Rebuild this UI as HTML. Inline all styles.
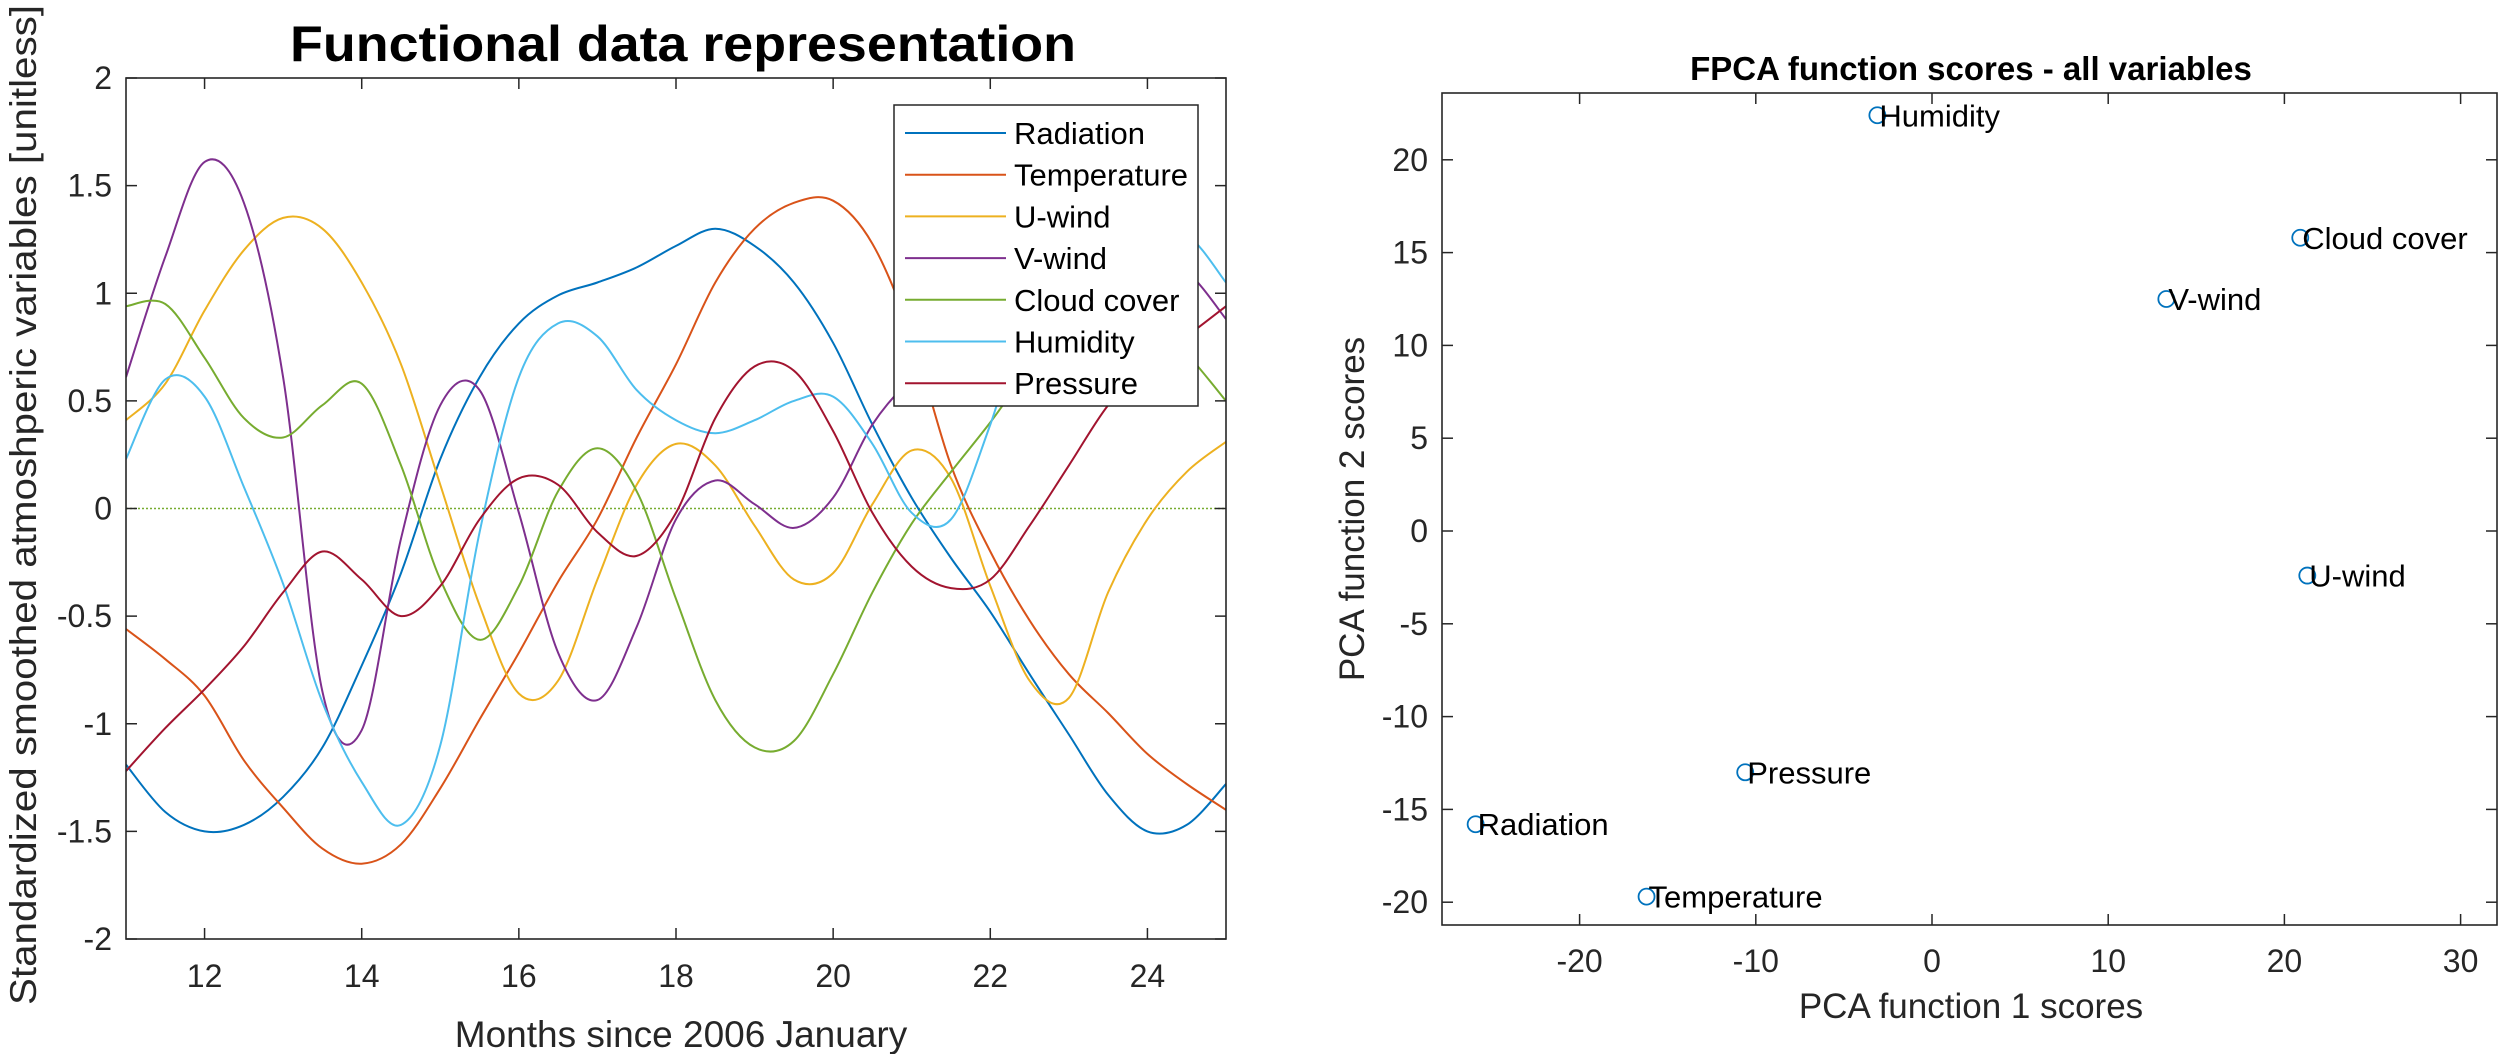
<!DOCTYPE html>
<html><head><meta charset="utf-8"><style>
html,body{margin:0;padding:0;background:#fff;}
svg{display:block;font-family:"Liberation Sans",Arial,sans-serif;}
</style></head><body>
<svg id="fig" width="2500" height="1054" viewBox="0 0 2500 1054"></svg>
<script>
// ---- Left chart data ----
const months = [11,11.5,12,12.5,13,13.5,14,14.5,15,15.5,16,16.5,17,17.5,18,18.5,19,19.5,20,20.5,21,21.5,22,22.5,23,23.5,24,24.5,25];
const radiation = [-1.19,-1.41,-1.5,-1.47,-1.34,-1.11,-0.73,-0.3,0.23,0.61,0.86,0.99,1.05,1.12,1.22,1.3,1.22,1.05,0.77,0.39,0.05,-0.23,-0.48,-0.77,-1.05,-1.33,-1.5,-1.47,-1.28];
const temperature = [-0.56,-0.7,-0.87,-1.17,-1.39,-1.58,-1.65,-1.56,-1.3,-0.98,-0.67,-0.34,-0.05,0.33,0.67,1.05,1.3,1.42,1.43,1.23,0.8,0.2,-0.2,-0.52,-0.77,-0.95,-1.14,-1.28,-1.4];
const uwind = [0.41,0.58,0.92,1.2,1.35,1.3,1.05,0.67,0.11,-0.45,-0.86,-0.8,-0.33,0.11,0.3,0.2,-0.08,-0.33,-0.3,0.02,0.27,0.14,-0.36,-0.8,-0.88,-0.39,-0.05,0.17,0.31];
const vwind = [0.61,1.17,1.61,1.42,0.61,-0.85,-1.03,-0.14,0.48,0.55,-0.02,-0.67,-0.89,-0.55,-0.05,0.13,0.02,-0.09,0.05,0.39,0.61,0.8,1.0,1.2,1.25,1.2,1.15,1.1,0.88];
const cloud = [0.94,0.95,0.7,0.42,0.33,0.48,0.58,0.2,-0.33,-0.61,-0.36,0.08,0.28,0.08,-0.42,-0.89,-1.11,-1.08,-0.77,-0.39,-0.07,0.17,0.4,0.65,0.85,0.95,0.9,0.72,0.5];
const humidity = [0.23,0.6,0.52,0.1,-0.35,-0.9,-1.27,-1.47,-1.1,-0.11,0.61,0.86,0.8,0.55,0.41,0.35,0.41,0.5,0.52,0.3,-0.02,-0.05,0.39,0.95,1.1,1.2,1.25,1.27,1.05];
const pressure = [-1.22,-1.02,-0.84,-0.64,-0.39,-0.2,-0.33,-0.5,-0.36,-0.05,0.14,0.11,-0.11,-0.22,-0.02,0.42,0.66,0.64,0.36,-0.02,-0.27,-0.37,-0.33,-0.08,0.2,0.48,0.67,0.8,0.94];
const seriesNames = ["Radiation","Temperature","U-wind","V-wind","Cloud cover","Humidity","Pressure"];
const xTicksL = [12,14,16,18,20,22,24];
const yTicksL = [-2,-1.5,-1,-0.5,0,0.5,1,1.5,2];
// ---- Right chart data ----
const scoreNames = ["Humidity","Cloud cover","V-wind","U-wind","Pressure","Radiation","Temperature"];
const score1 = [-3.1,20.9,13.3,21.3,-10.6,-25.9,-16.2];
const score2 = [22.4,15.8,12.5,-2.4,-13.0,-15.8,-19.7];
const xTicksR = [-20,-10,0,10,20,30];
const yTicksR = [-20,-15,-10,-5,0,5,10,15,20];

const NS="http://www.w3.org/2000/svg";
const svg=document.getElementById('fig');
function el(tag,attrs,parent,text){const e=document.createElementNS(NS,tag);for(const k in attrs)e.setAttribute(k,attrs[k]);if(text!==undefined)e.textContent=text;(parent||svg).appendChild(e);return e;}
const colors=["#0072BD","#D95319","#EDB120","#7E2F8E","#77AC30","#4DBEEE","#A2142F"];
const INK="#262626";

const L={x0:126,x1:1226,y0:78,y1:939,xmin:11,xmax:25,ymin:-2,ymax:2};
const lx=v=>L.x0+(v-L.xmin)/(L.xmax-L.xmin)*(L.x1-L.x0);
const ly=v=>L.y1-(v-L.ymin)/(L.ymax-L.ymin)*(L.y1-L.y0);

const t1=el('text',{x:683,y:61,'font-size':50,'font-weight':'bold','text-anchor':'middle',fill:'#000',textLength:786,lengthAdjust:'spacingAndGlyphs'},svg,"Functional data representation");



const gL=el('g',{});


el('defs',{},gL).innerHTML='<clipPath id="clipL"><rect x="126" y="78" width="1100" height="861"/></clipPath>';

const z=el('line',{x1:L.x0,x2:L.x1,y1:ly(0),y2:ly(0),stroke:'#77AC30','stroke-width':1.5,'stroke-dasharray':'2 2'},gL);



function smoothPath(xs,ys,fx,fy){
  const p=xs.map((x,i)=>[fx(x),fy(ys[i])]);
  let d=`M${p[0][0].toFixed(1)},${p[0][1].toFixed(1)}`;
  for(let i=0;i<p.length-1;i++){
    const p0=p[i-1]||p[i],p1=p[i],p2=p[i+1],p3=p[i+2]||p[i+1];
    const c1=[p1[0]+(p2[0]-p0[0])/6,p1[1]+(p2[1]-p0[1])/6];
    const c2=[p2[0]-(p3[0]-p1[0])/6,p2[1]-(p3[1]-p1[1])/6];
    d+=`C${c1[0].toFixed(1)},${c1[1].toFixed(1)} ${c2[0].toFixed(1)},${c2[1].toFixed(1)} ${p2[0].toFixed(1)},${p2[1].toFixed(1)}`;
  }
  return d;
}
const allSeries=[radiation,temperature,uwind,vwind,cloud,humidity,pressure];
allSeries.forEach((s,i)=>{
  const p=el('path',{d:smoothPath(months,s,lx,ly),fill:'none',stroke:colors[i],'stroke-width':2,'clip-path':'url(#clipL)'},gL);
  
  
});

function box(A,parent){
  el('rect',{x:A.x0,y:A.y0,width:A.x1-A.x0,height:A.y1-A.y0,fill:'none',stroke:INK,'stroke-width':1.6},parent);
}
box(L,gL);
xTicksL.forEach(t=>{
  const x=lx(t);
  el('line',{x1:x,x2:x,y1:L.y1,y2:L.y1-11,stroke:INK,'stroke-width':1.5},gL);
  el('line',{x1:x,x2:x,y1:L.y0,y2:L.y0+11,stroke:INK,'stroke-width':1.5},gL);
  const tx=el('text',{x:x,y:987,'font-size':32,'text-anchor':'middle',fill:INK},gL,String(t));
  
  
});
yTicksL.forEach(t=>{
  const y=ly(t);
  el('line',{x1:L.x0,x2:L.x0+11,y1:y,y2:y,stroke:INK,'stroke-width':1.5},gL);
  el('line',{x1:L.x1,x2:L.x1-11,y1:y,y2:y,stroke:INK,'stroke-width':1.5},gL);
  const tx=el('text',{x:112,y:y+11,'font-size':32,'text-anchor':'end',fill:INK},gL,String(t));
  
  
});
const xl=el('text',{x:681,y:1047,'font-size':37,'text-anchor':'middle',fill:INK},svg,"Months since 2006 January");


const yl=el('text',{x:0,y:0,'font-size':37,'text-anchor':'middle',fill:INK,transform:'translate(36,505) rotate(-90)',textLength:1000,lengthAdjust:'spacingAndGlyphs'},svg,"Standardized smoothed atmoshperic variables [unitless]");



const lg=el('g',{});


el('rect',{x:894,y:105,width:304,height:301,fill:'#fff',stroke:INK,'stroke-width':1.5},lg);
seriesNames.forEach((n,i)=>{
  const y=133+i*41.7;
  const e=el('g',{},lg);
  
  
  el('line',{x1:905,x2:1006,y1:y,y2:y,stroke:colors[i],'stroke-width':2},e);
  el('text',{x:1014,y:y+11,'font-size':31,fill:'#000'},e,n);
});

const R={x0:1442,x1:2497,y0:93,y1:925};
const rx=v=>1932+v*17.62;
const ry=v=>531-v*18.56;
const gR=el('g',{});


const t2=el('text',{x:1971,y:80,'font-size':33,'font-weight':'bold','text-anchor':'middle',fill:'#000'},svg,"FPCA function scores - all variables");


box(R,gR);
xTicksR.forEach(t=>{
  const x=rx(t);
  el('line',{x1:x,x2:x,y1:R.y1,y2:R.y1-11,stroke:INK,'stroke-width':1.5},gR);
  el('line',{x1:x,x2:x,y1:R.y0,y2:R.y0+11,stroke:INK,'stroke-width':1.5},gR);
  const tx=el('text',{x:x,y:972,'font-size':32,'text-anchor':'middle',fill:INK},gR,String(t));
  
  
});
yTicksR.forEach(t=>{
  const y=ry(t);
  el('line',{x1:R.x0,x2:R.x0+11,y1:y,y2:y,stroke:INK,'stroke-width':1.5},gR);
  el('line',{x1:R.x1,x2:R.x1-11,y1:y,y2:y,stroke:INK,'stroke-width':1.5},gR);
  const tx=el('text',{x:1428,y:y+11,'font-size':32,'text-anchor':'end',fill:INK},gR,String(t));
  
  
});
score1.forEach((v,i)=>{
  const g=el('g',{},gR);
  
  
  const cx=rx(v),cy=ry(score2[i]);
  el('circle',{cx:cx,cy:cy,r:8,fill:'none',stroke:'#0072BD','stroke-width':1.8},g);
  el('text',{x:cx+2,y:cy+11,'font-size':31,fill:'#000'},g,scoreNames[i]);
});
const xl2=el('text',{x:1971,y:1018,'font-size':35,'text-anchor':'middle',fill:INK},svg,"PCA function 1 scores");


const yl2=el('text',{x:0,y:0,'font-size':35,'text-anchor':'middle',fill:INK,transform:'translate(1364,509) rotate(-90)'},svg,"PCA function 2 scores");


</script>
</body></html>
